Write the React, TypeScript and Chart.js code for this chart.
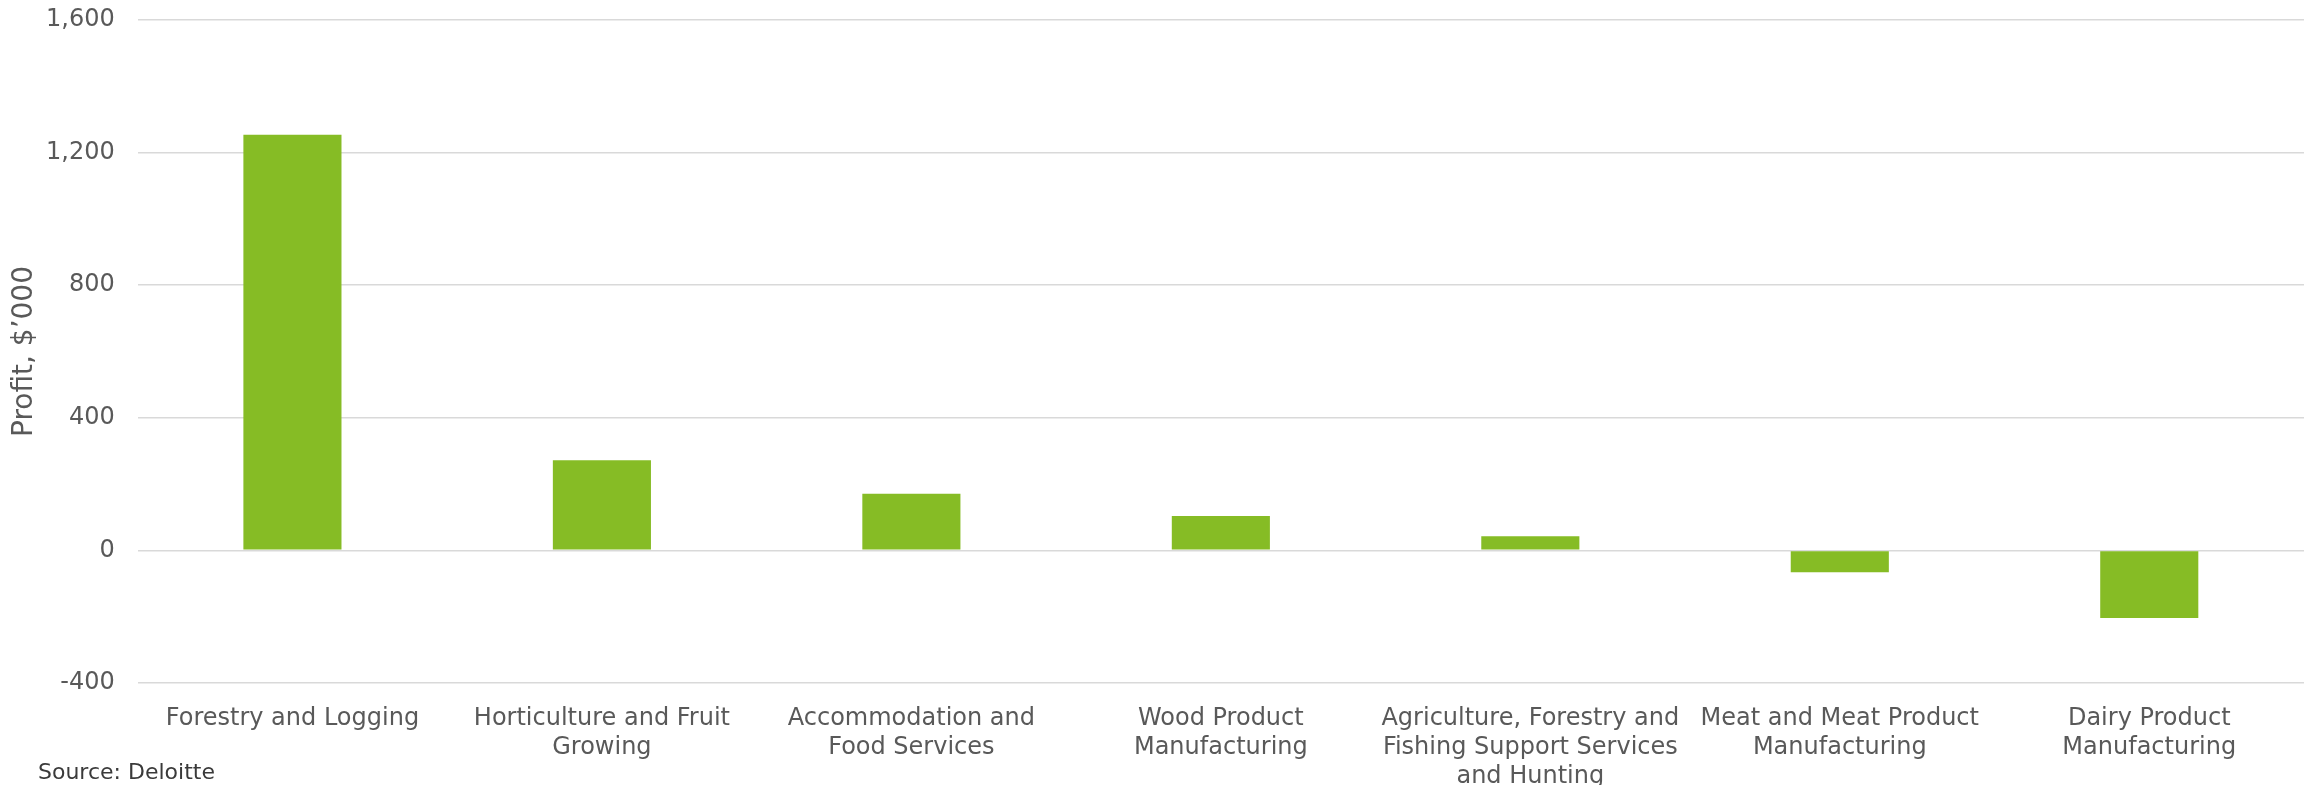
import React, { useEffect, useRef } from "react";
import { Chart, registerables } from "chart.js";

Chart.register(...registerables);

const categories: (string | string[])[] = [
  "Forestry and Logging",
  ["Horticulture and Fruit", "Growing"],
  ["Accommodation and", "Food Services"],
  ["Wood Product", "Manufacturing"],
  ["Agriculture, Forestry and", "Fishing Support Services", "and Hunting"],
  ["Meat and Meat Product", "Manufacturing"],
  ["Dairy Product", "Manufacturing"],
];

const profitValues: number[] = [1254, 272, 171, 104, 43, -66, -204];

const yMin = -400;
const yMax = 1600;
const yStep = 400;

const yAxisTitle = "Profit, $\u2019000";
const sourceText = "Source: Deloitte";

const FONT = "'DejaVu Sans', Verdana, sans-serif";

export default function App() {
  const canvasRef = useRef<HTMLCanvasElement | null>(null);

  useEffect(() => {
    if (!canvasRef.current) return;
    const sourcePlugin = {
      id: "sourceNote",
      afterDraw(chart: any) {
        const ctx = chart.ctx;
        ctx.save();
        ctx.font = `22px ${FONT}`;
        ctx.fillStyle = "#3a3a3a";
        ctx.textAlign = "left";
        ctx.textBaseline = "middle";
        ctx.fillText(sourceText, 38, 773);
        ctx.restore();
      },
    };
    const chart = new Chart(canvasRef.current, {
      type: "bar",
      data: {
        labels: categories,
        datasets: [
          {
            label: "Profit",
            data: profitValues,
            backgroundColor: "#86BC25",
            borderWidth: 0,
            barPercentage: 0.317,
            categoryPercentage: 1,
          },
        ],
      },
      options: {
        animation: false,
        responsive: false,
        maintainAspectRatio: false,
        layout: { padding: { top: 20, left: 0, right: 1, bottom: 0 } },
        plugins: {
          legend: { display: false },
          tooltip: { enabled: false },
          title: { display: false },
        },
        scales: {
          x: {
            grid: { display: false, drawTicks: false },
            border: { display: false },
            ticks: {
              color: "#595959",
              font: { family: FONT, size: 24, lineHeight: 1.21 },
              padding: 21,
              maxRotation: 0,
              minRotation: 0,
              autoSkip: false,
            },
            afterFit(scale: any) {
              scale.height = 102;
              scale.paddingLeft = 0;
              scale.paddingRight = 0;
            },
          },
          y: {
            min: yMin,
            max: yMax,
            grid: { color: "#D9D9D9", lineWidth: 1.6, drawTicks: false },
            border: { display: false },
            ticks: {
              stepSize: yStep,
              color: "#595959",
              font: { family: FONT, size: 24 },
              padding: 23,
            },
            title: {
              display: true,
              text: yAxisTitle,
              color: "#595959",
              font: { family: FONT, size: 28 },
              padding: { top: 8, bottom: 0 },
            },
            afterFit(scale: any) {
              scale.width = 137.7;
              scale.paddingTop = 0;
              scale.paddingBottom = 0;
            },
          },
        },
      },
      plugins: [sourcePlugin],
    });
    return () => chart.destroy();
  }, []);

  return (
    <div style={{ position: "fixed", left: 0, top: 0, width: 2305, height: 785, background: "#fff" }}>
      <canvas ref={canvasRef} width={2305} height={785} style={{ display: "block", width: 2305, height: 785 }} />
    </div>
  );
}
